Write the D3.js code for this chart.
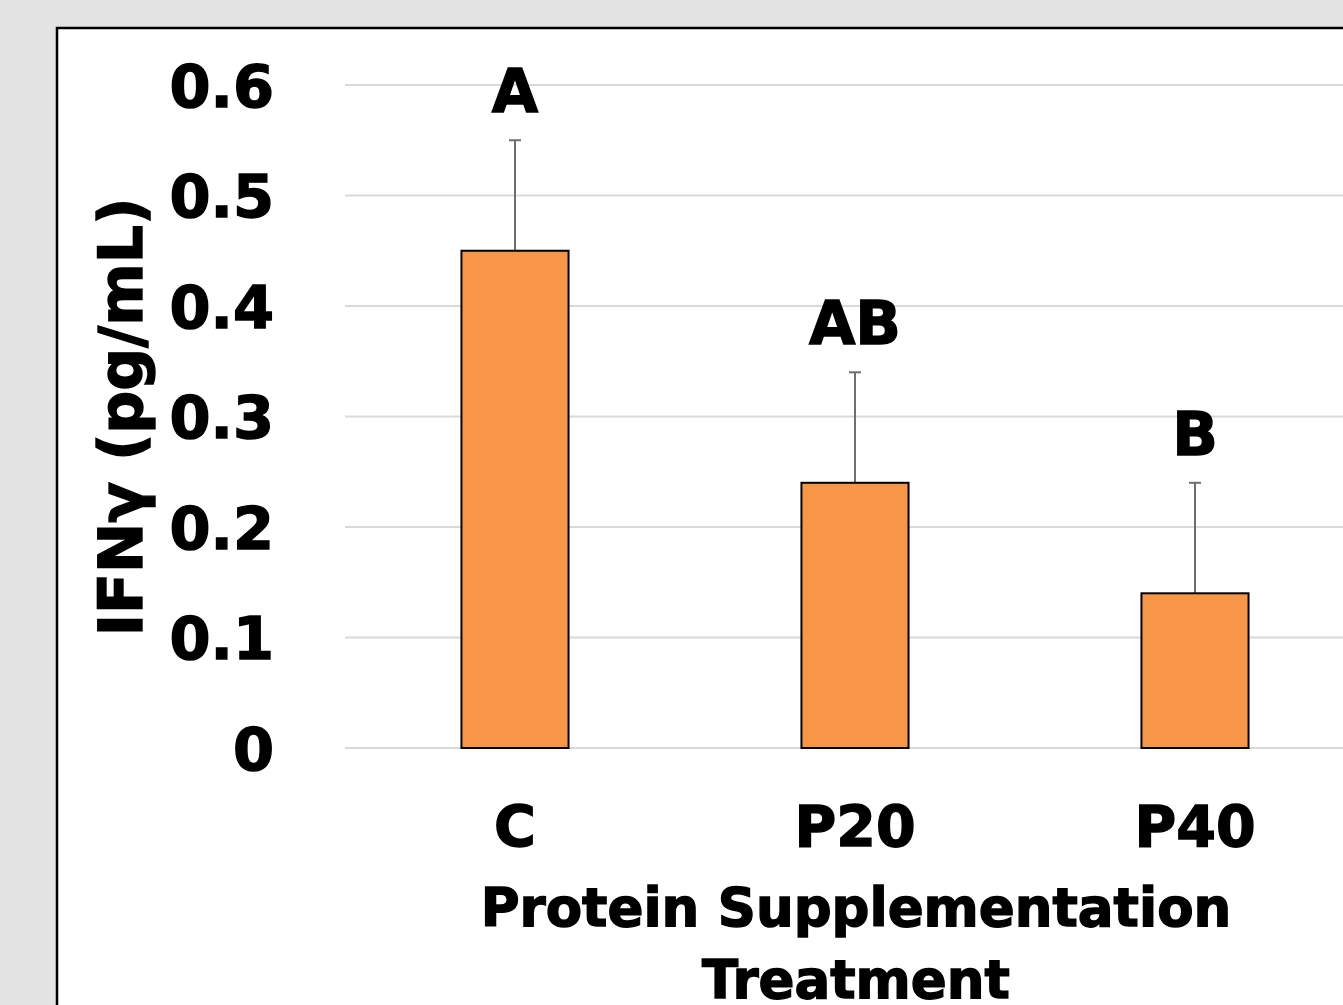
<!DOCTYPE html>
<html>
<head>
<meta charset="utf-8">
<script src="https://cdn.jsdelivr.net/npm/d3@7"></script>
<style>
  html, body { margin: 0; padding: 0; background: #e3e3e3; overflow: hidden; }
  svg { display: block; }
  text { font-family: "DejaVu Sans", "Liberation Sans", sans-serif; font-weight: bold; fill: #000; stroke: #000; stroke-width: 1.4px; }
</style>
</head>
<body>
<svg id="chart"></svg>
<script>
const categories = ['C', 'P20', 'P40'];
const means = [0.45, 0.24, 0.14];
const errors = [0.10, 0.10, 0.10];
const letters = ['A', 'AB', 'B'];
const yTicks = [0, 0.1, 0.2, 0.3, 0.4, 0.5, 0.6];

const width = 1343;
const height = 1005;
const margin = { top: 85, right: -22, bottom: 257, left: 345 };

const svg = d3.select('#chart')
  .attr('width', width)
  .attr('height', height);

// white panel, only left/top edges visible
svg.append('rect')
  .attr('x', 57).attr('y', 28)
  .attr('width', width).attr('height', height)
  .attr('fill', '#fff')
  .attr('stroke', '#000')
  .attr('stroke-width', 2.5);

const x = d3.scaleBand()
  .domain(categories)
  .range([margin.left, width - margin.right])
  .padding(0);

const y = d3.scaleLinear()
  .domain([0, 0.6])
  .range([height - margin.bottom, margin.top]);

const barW = x.bandwidth() * 0.315;

// gridlines
svg.append('g')
  .selectAll('line')
  .data(yTicks)
  .join('line')
  .attr('x1', margin.left)
  .attr('x2', width)
  .attr('y1', d => y(d))
  .attr('y2', d => y(d))
  .attr('stroke', '#d9d9d9')
  .attr('stroke-width', 2);

// y axis labels
const yAxis = g => g
  .attr('transform', `translate(274,0)`)
  .call(d3.axisLeft(y).tickValues(yTicks).tickFormat(d => d === 0 ? '0' : d3.format('.1f')(d)).tickSize(0).tickPadding(0))
  .call(g => g.select('.domain').remove())
  .call(g => g.selectAll('text')
    .attr('font-size', 59)
    .attr('font-family', null)
    .attr('fill', null)
    .attr('dy', '0.36em'));

svg.append('g').call(yAxis);

// bars
const bars = svg.append('g')
  .selectAll('g')
  .data(categories.map((c, i) => ({ c, v: means[i], e: errors[i], l: letters[i] })))
  .join('g');

bars.append('line')
  .attr('x1', d => x(d.c) + x.bandwidth() / 2)
  .attr('x2', d => x(d.c) + x.bandwidth() / 2)
  .attr('y1', d => y(d.v))
  .attr('y2', d => y(d.v + d.e))
  .attr('stroke', '#6e6e6e')
  .attr('stroke-width', 2);

bars.append('line')
  .attr('x1', d => x(d.c) + x.bandwidth() / 2 - 6)
  .attr('x2', d => x(d.c) + x.bandwidth() / 2 + 6)
  .attr('y1', d => y(d.v + d.e))
  .attr('y2', d => y(d.v + d.e))
  .attr('stroke', '#6e6e6e')
  .attr('stroke-width', 2);

bars.append('rect')
  .attr('x', d => x(d.c) + x.bandwidth() / 2 - barW / 2)
  .attr('y', d => y(d.v))
  .attr('width', barW)
  .attr('height', d => y(0) - y(d.v))
  .attr('fill', '#f79646')
  .attr('stroke', '#000')
  .attr('stroke-width', 2);

bars.append('text')
  .attr('x', d => x(d.c) + x.bandwidth() / 2)
  .attr('y', d => y(d.v + d.e) - 28)
  .attr('text-anchor', 'middle')
  .attr('font-size', 60)
  .text(d => d.l);

// x axis labels
const xAxis = g => g
  .attr('transform', `translate(0,${y(0)})`)
  .call(d3.axisBottom(x).tickSize(0).tickPadding(0))
  .call(g => g.select('.domain').remove())
  .call(g => g.selectAll('text')
    .attr('font-size', 57)
    .attr('font-family', null)
    .attr('fill', null)
    .attr('y', 99)
    .attr('dy', 0));

svg.append('g').call(xAxis);

// x title
svg.append('text')
  .attr('x', 856).attr('y', 926)
  .attr('text-anchor', 'middle')
  .attr('font-size', 53)
  .text('Protein Supplementation');

svg.append('text')
  .attr('x', 856).attr('y', 998)
  .attr('text-anchor', 'middle')
  .attr('font-size', 53)
  .text('Treatment');

// y title
svg.append('text')
  .attr('transform', 'translate(142,417) rotate(-90)')
  .attr('text-anchor', 'middle')
  .attr('font-size', 60)
  .text('IFNγ (pg/mL)');
</script>
</body>
</html>
